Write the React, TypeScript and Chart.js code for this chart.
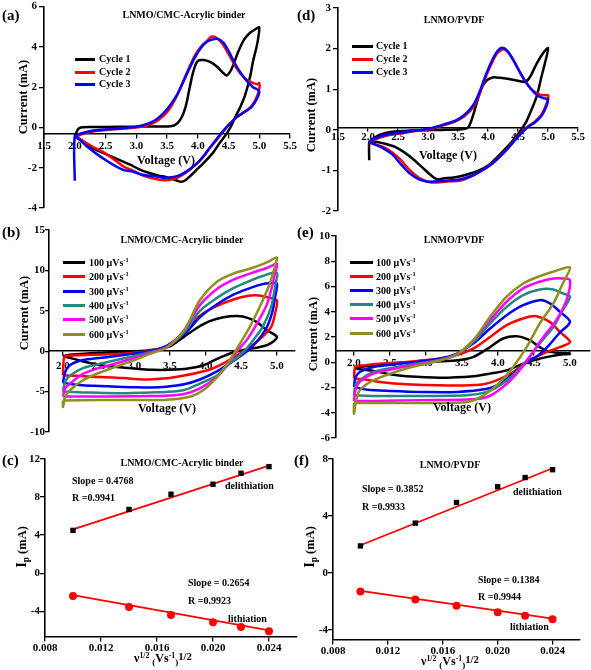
import React, { useEffect, useRef } from 'react';
import { Chart, registerables } from 'chart.js';
Chart.register(...registerables);

const W = 591;
const H = 670;
const FONT = '"Liberation Serif", "Times New Roman", serif';

// ---------- DATA ----------
// (a) LNMO/CMC-Acrylic binder, CV cycles [voltage V, current mA]
const cmcCycle1 = [
  [2.0, -0.45], [2.05, -0.1], [2.1, 0.0], [2.3, 0.02], [2.7, 0.03], [3.2, 0.05], [3.5, 0.05], [3.62, 0.1],
  [3.72, 0.4], [3.8, 1.0], [3.87, 2.0], [3.93, 2.8], [4.0, 3.3], [4.1, 3.35], [4.2, 3.25], [4.3, 3.05],
  [4.4, 2.75], [4.47, 2.58], [4.55, 2.9], [4.65, 3.7], [4.75, 4.35], [4.85, 4.7], [4.95, 4.9], [5.0, 4.97],
  [4.97, 4.2], [4.9, 3.3], [4.85, 2.5], [4.77, 1.6], [4.69, 1.0], [4.6, 0.45], [4.53, 0.0], [4.46, -0.35],
  [4.35, -0.8], [4.25, -1.25], [4.1, -1.75], [4.0, -2.05], [3.9, -2.35], [3.8, -2.62], [3.73, -2.7],
  [3.65, -2.62], [3.5, -2.48], [3.35, -2.38], [3.2, -2.25], [3.05, -2.08], [2.9, -1.85], [2.75, -1.65],
  [2.6, -1.45], [2.45, -1.25], [2.3, -1.05], [2.15, -0.75], [2.05, -0.55], [2.0, -0.45],
];
const cmcCycle2 = [
  [2.0, -0.5], [2.1, -0.35], [2.3, -0.2], [2.6, -0.1], [3.0, 0.0], [3.2, 0.12], [3.35, 0.35], [3.5, 0.75],
  [3.65, 1.5], [3.8, 2.55], [3.95, 3.55], [4.05, 4.0], [4.15, 4.3], [4.22, 4.5], [4.3, 4.45], [4.4, 4.15],
  [4.5, 3.65], [4.6, 3.1], [4.7, 2.65], [4.8, 2.35], [4.9, 2.2], [4.97, 2.15], [5.0, 2.2],
  [5.0, 1.9], [4.95, 1.45], [4.87, 1.05], [4.75, 0.75], [4.63, 0.5], [4.5, 0.12], [4.4, -0.25], [4.3, -0.65],
  [4.2, -1.0], [4.1, -1.4], [4.0, -1.75], [3.85, -2.15], [3.7, -2.45], [3.55, -2.6], [3.45, -2.62],
  [3.3, -2.55], [3.1, -2.38], [2.95, -2.15], [2.8, -1.95], [2.6, -1.5], [2.45, -1.2], [2.3, -0.97],
  [2.15, -0.7], [2.05, -0.5], [2.0, -0.45],
];
const cmcCycle3 = [
  [2.0, -2.65], [2.0, -0.45], [2.1, -0.3], [2.3, -0.15], [2.6, -0.08], [3.0, 0.03], [3.2, 0.2], [3.35, 0.45],
  [3.5, 0.9], [3.65, 1.55], [3.8, 2.5], [3.95, 3.45], [4.05, 3.95], [4.15, 4.25], [4.25, 4.38], [4.33, 4.4],
  [4.42, 4.2], [4.5, 3.8], [4.6, 3.2], [4.7, 2.7], [4.8, 2.3], [4.9, 2.0], [5.0, 1.8],
  [4.95, 1.35], [4.87, 1.0], [4.75, 0.75], [4.63, 0.5], [4.5, 0.12], [4.4, -0.22], [4.3, -0.6], [4.2, -1.0],
  [4.1, -1.42], [4.0, -1.75], [3.85, -2.12], [3.7, -2.38], [3.55, -2.48], [3.45, -2.5], [3.3, -2.42],
  [3.1, -2.35], [2.95, -2.2], [2.8, -2.12], [2.65, -1.9], [2.5, -1.62], [2.35, -1.3], [2.2, -0.95],
  [2.08, -0.6], [2.0, -0.45],
];

// (d) LNMO/PVDF, CV cycles
const pvdfCycle1 = [
  [2.02, -0.75], [2.02, -0.3], [2.05, -0.25], [2.2, -0.12], [2.4, -0.05], [2.7, -0.02], [3.0, -0.01],
  [3.3, 0.0], [3.6, 0.02], [3.68, 0.08], [3.76, 0.4], [3.83, 0.75], [3.9, 1.05], [3.98, 1.22], [4.08, 1.29],
  [4.2, 1.28], [4.35, 1.25], [4.5, 1.21], [4.62, 1.18], [4.7, 1.3], [4.8, 1.6], [4.9, 1.85], [5.0, 2.01],
  [4.95, 1.65], [4.89, 1.3], [4.81, 0.82], [4.7, 0.41], [4.62, 0.15], [4.55, 0.0], [4.45, -0.2],
  [4.3, -0.45], [4.15, -0.68], [4.0, -0.88], [3.85, -1.0], [3.65, -1.1], [3.45, -1.17], [3.25, -1.2],
  [3.15, -1.22], [3.05, -1.12], [2.9, -0.92], [2.75, -0.72], [2.6, -0.55], [2.45, -0.42], [2.3, -0.35],
  [2.15, -0.3], [2.03, -0.28],
];
const pvdfCycle2 = [
  [2.02, -0.32], [2.1, -0.25], [2.3, -0.15], [2.5, -0.1], [2.8, -0.03], [3.0, 0.0], [3.15, 0.06], [3.3, 0.13],
  [3.45, 0.2], [3.6, 0.33], [3.75, 0.55], [3.85, 0.85], [3.95, 1.25], [4.05, 1.6], [4.15, 1.88], [4.25, 1.98],
  [4.32, 1.93], [4.42, 1.72], [4.52, 1.45], [4.62, 1.2], [4.72, 1.0], [4.82, 0.9], [4.92, 0.85], [5.0, 0.85],
  [5.0, 0.75], [4.95, 0.55], [4.88, 0.35], [4.78, 0.2], [4.68, 0.1], [4.6, 0.0], [4.5, -0.15], [4.35, -0.42],
  [4.2, -0.65], [4.05, -0.85], [3.9, -1.0], [3.75, -1.13], [3.55, -1.25], [3.35, -1.27], [3.15, -1.3],
  [3.0, -1.28], [2.85, -1.18], [2.7, -1.0], [2.55, -0.75], [2.4, -0.55], [2.25, -0.42], [2.1, -0.35], [2.02, -0.32],
];
const pvdfCycle3 = [
  [2.02, -0.3], [2.1, -0.22], [2.3, -0.12], [2.5, -0.08], [2.8, -0.02], [3.0, 0.02], [3.15, 0.08], [3.3, 0.15],
  [3.45, 0.22], [3.6, 0.36], [3.75, 0.6], [3.85, 0.9], [3.95, 1.3], [4.05, 1.65], [4.15, 1.92], [4.23, 2.02],
  [4.32, 1.95], [4.42, 1.72], [4.52, 1.45], [4.62, 1.2], [4.72, 1.0], [4.82, 0.85], [4.92, 0.78], [5.0, 0.75],
  [4.95, 0.5], [4.88, 0.32], [4.78, 0.18], [4.68, 0.08], [4.6, -0.02], [4.5, -0.17], [4.35, -0.43],
  [4.2, -0.66], [4.05, -0.86], [3.9, -1.0], [3.75, -1.12], [3.55, -1.22], [3.35, -1.25], [3.15, -1.27],
  [3.0, -1.28], [2.85, -1.22], [2.7, -1.08], [2.55, -0.85], [2.4, -0.6], [2.25, -0.45], [2.1, -0.35], [2.02, -0.3],
];

// (b) LNMO/CMC-Acrylic binder, scan rates
const cmcRate100 = [
  [2.0, -0.6], [2.1, -0.45], [2.3, -0.3], [2.6, -0.15], [3.0, -0.05], [3.3, 0.2], [3.5, 0.6], [3.7, 1.8],
  [3.9, 3.0], [4.05, 3.7], [4.25, 4.2], [4.45, 4.35], [4.6, 4.1], [4.72, 3.6], [4.86, 2.6], [5.0, 1.8],
  [4.95, 1.2], [4.86, 0.75], [4.75, 0.5], [4.62, 0.3], [4.5, 0.1], [4.4, -0.1], [4.25, -0.6], [4.1, -1.2],
  [3.95, -1.8], [3.75, -2.15], [3.5, -2.3], [3.25, -2.3], [3.0, -2.15], [2.75, -1.95], [2.5, -1.7],
  [2.3, -1.3], [2.15, -0.95], [2.0, -0.6],
];
const cmcRate200 = [
  [2.0, -3.0], [2.02, -0.7], [2.1, -0.55], [2.4, -0.45], [2.75, -0.35], [3.0, -0.2], [3.25, 0.1], [3.45, 0.6],
  [3.6, 1.6], [3.75, 3.0], [3.92, 4.4], [4.16, 5.6], [4.39, 6.4], [4.6, 6.85], [4.75, 6.9], [4.9, 6.6], [5.0, 6.3],
  [4.97, 4.5], [4.92, 3.0], [4.8, 1.8], [4.62, 0.5], [4.44, -0.5], [4.25, -1.5], [4.08, -2.2], [3.92, -2.6],
  [3.7, -3.0], [3.45, -3.35], [3.2, -3.5], [2.95, -3.4], [2.7, -3.25], [2.4, -3.15], [2.2, -3.05], [2.0, -3.0],
];
const cmcRate300 = [
  [2.0, -3.9], [2.03, -2.6], [2.1, -1.7], [2.28, -1.1], [2.5, -0.85], [2.75, -0.6], [3.0, -0.3], [3.23, 0.0],
  [3.46, 0.7], [3.7, 2.1], [3.92, 4.2], [4.16, 5.8], [4.39, 7.0], [4.62, 7.8], [4.8, 8.3], [4.9, 8.4], [5.0, 8.4],
  [4.97, 6.5], [4.94, 5.0], [4.86, 3.0], [4.72, 1.2], [4.58, 0.0], [4.39, -1.2], [4.16, -2.5], [3.92, -3.5],
  [3.7, -4.1], [3.45, -4.4], [3.23, -4.5], [2.95, -4.45], [2.75, -4.4], [2.5, -4.3], [2.28, -4.2],
  [2.1, -4.05], [2.0, -3.9],
];
const cmcRate400 = [
  [2.0, -5.0], [2.03, -3.8], [2.1, -3.0], [2.28, -2.1], [2.5, -1.6], [2.75, -1.1], [3.0, -0.6], [3.23, -0.1],
  [3.46, 0.5], [3.7, 2.35], [3.92, 5.0], [4.16, 6.6], [4.39, 7.8], [4.62, 8.7], [4.8, 9.3], [5.0, 9.7],
  [4.98, 8.3], [4.92, 5.5], [4.8, 3.0], [4.67, 1.4], [4.53, -0.1], [4.34, -1.5], [4.16, -3.0], [3.92, -4.0],
  [3.7, -4.8], [3.45, -5.05], [3.23, -5.1], [2.75, -5.2], [2.28, -5.1], [2.0, -5.0],
];
const cmcRate500 = [
  [2.0, -5.6], [2.03, -4.6], [2.1, -4.0], [2.28, -2.8], [2.5, -2.1], [2.75, -1.5], [3.0, -0.85], [3.23, -0.2],
  [3.46, 0.5], [3.7, 2.6], [3.92, 5.7], [4.16, 7.7], [4.39, 8.85], [4.62, 9.6], [4.86, 10.3], [5.0, 10.8],
  [4.97, 9.5], [4.94, 8.3], [4.86, 5.8], [4.72, 3.4], [4.58, 1.4], [4.44, 0.0], [4.3, -1.7], [4.16, -3.2],
  [3.92, -4.6], [3.7, -5.3], [3.45, -5.5], [3.23, -5.55], [2.75, -5.6], [2.28, -5.6], [2.0, -5.6],
];
const cmcRate600 = [
  [2.0, -6.1], [2.0, -6.9], [2.03, -5.6], [2.1, -4.8], [2.28, -3.6], [2.5, -2.7], [2.75, -1.9], [3.0, -1.1],
  [3.23, -0.3], [3.46, 0.5], [3.7, 2.6], [3.92, 6.3], [4.16, 8.6], [4.39, 9.6], [4.62, 10.2], [4.86, 11.0], [5.0, 11.6],
  [4.98, 10.8], [4.9, 8.35], [4.76, 5.5], [4.62, 3.0], [4.48, 0.9], [4.34, -1.1], [4.16, -3.2], [3.97, -4.8],
  [3.79, -5.6], [3.46, -6.0], [3.0, -6.05], [2.5, -6.05], [2.0, -6.1],
];

// (e) LNMO/PVDF, scan rates
const pvdfRate100 = [
  [2.0, -0.5], [2.08, -0.37], [2.27, -0.24], [2.5, -0.1], [2.96, 0.03], [3.3, 0.1], [3.5, 0.2], [3.66, 0.42],
  [3.89, 1.2], [4.07, 1.88], [4.26, 2.06], [4.44, 1.75], [4.58, 1.2], [4.72, 0.82], [5.0, 0.69],
  [4.81, 0.56], [4.58, 0.29], [4.35, -0.11], [4.12, -0.64], [3.89, -0.9], [3.66, -1.1], [3.2, -1.22],
  [2.73, -1.11], [2.5, -0.95], [2.27, -0.69], [2.0, -0.5],
];
const pvdfRate200 = [
  [2.0, -1.3], [2.02, -0.35], [2.13, -0.25], [2.4, -0.1], [2.73, 0.02], [3.2, 0.29], [3.43, 0.56], [3.66, 1.1],
  [3.89, 2.0], [4.12, 2.94], [4.35, 3.47], [4.53, 3.65], [4.72, 3.2], [4.86, 2.4], [5.0, 1.61],
  [4.86, 1.2], [4.63, 0.69], [4.4, 0.03], [4.21, -0.77], [3.98, -1.43], [3.75, -1.78], [3.2, -1.83],
  [2.73, -1.75], [2.36, -1.56], [2.13, -1.35], [2.0, -1.3],
];
const pvdfRate300 = [
  [2.0, -1.96], [2.02, -1.2], [2.08, -0.77], [2.27, -0.37], [2.73, -0.06], [3.2, 0.29], [3.43, 0.69], [3.66, 1.5],
  [3.89, 2.67], [4.12, 3.73], [4.35, 4.52], [4.58, 4.92], [4.72, 4.66], [4.86, 4.0], [5.0, 3.2],
  [4.85, 2.3], [4.7, 1.3], [4.55, 0.5], [4.45, 0.2], [4.21, -0.9], [4.03, -1.69], [3.85, -2.1], [3.43, -2.35],
  [2.96, -2.35], [2.5, -2.27], [2.18, -2.17], [2.0, -1.96],
];
const pvdfRate400 = [
  [2.0, -2.62], [2.02, -1.8], [2.08, -1.43], [2.27, -0.77], [2.73, -0.24], [3.2, 0.21], [3.43, 0.63], [3.66, 1.61],
  [3.89, 3.07], [4.12, 4.39], [4.35, 5.32], [4.58, 5.77], [4.77, 5.77], [4.9, 5.45], [5.0, 5.19],
  [4.9, 4.13], [4.77, 2.8], [4.58, 1.48], [4.4, 0.16], [4.21, -1.03], [4.03, -1.82], [3.85, -2.35],
  [3.57, -2.62], [2.96, -2.67], [2.27, -2.67], [2.0, -2.62],
];
const pvdfRate500 = [
  [2.0, -3.07], [2.02, -2.2], [2.08, -1.56], [2.27, -0.9], [2.73, -0.32], [3.2, 0.16], [3.43, 0.63], [3.66, 1.75],
  [3.89, 3.33], [4.12, 4.79], [4.35, 5.85], [4.58, 6.38], [4.77, 6.64], [4.9, 6.64], [5.0, 6.5],
  [4.95, 4.9], [4.81, 3.33], [4.63, 2.0], [4.44, 0.42], [4.26, -0.9], [4.07, -1.96], [3.85, -2.75],
  [3.57, -2.96], [2.96, -3.0], [2.27, -3.07], [2.0, -3.07],
];
const pvdfRate600 = [
  [2.0, -3.23], [2.0, -4.07], [2.03, -3.0], [2.08, -2.22], [2.27, -1.43], [2.73, -0.5], [3.2, 0.16], [3.43, 0.63],
  [3.66, 1.75], [3.89, 3.6], [4.12, 5.19], [4.35, 6.24], [4.58, 6.82], [4.81, 7.25], [5.0, 7.51],
  [4.9, 6.24], [4.77, 4.66], [4.58, 3.07], [4.4, 1.22], [4.21, -0.37], [4.03, -1.56], [3.8, -2.62],
  [3.57, -3.15], [2.96, -3.23], [2.27, -3.23], [2.0, -3.23],
];

// (c), (f) peak current vs square root of scan rate
const sqrtScanRate = [0.010, 0.014, 0.017, 0.020, 0.022, 0.024];
const cmcDelith = [4.5, 6.7, 8.3, 9.35, 10.5, 11.2];
const cmcLith = [-2.4, -3.55, -4.4, -5.15, -5.65, -6.1];
const cmcDelithFit = [[0.010, 4.6], [0.024, 11.3]];
const cmcLithFit = [[0.010, -2.3], [0.024, -6.0]];
const pvdfDelith = [1.9, 3.5, 4.95, 6.05, 6.7, 7.25];
const pvdfLith = [-1.3, -1.85, -2.3, -2.75, -3.0, -3.25];
const pvdfDelithFit = [[0.010, 1.95], [0.024, 7.35]];
const pvdfLithFit = [[0.010, -1.25], [0.024, -3.2]];

const cycleLabels = ['Cycle 1', 'Cycle 2', 'Cycle 3'];
const rateLabels = ['100', '200', '300', '400', '500', '600'];

// ---------- STYLE ----------
const C_BLACK = '#000000';
const C_RED = '#ff0000';
const C_BLUE = '#0000ff';
const C_TEAL = '#22897f';
const C_MAGENTA = '#ff00ff';
const C_OLIVE = '#8f8f1f';
const cycleColors = [C_BLACK, C_RED, C_BLUE];
const rateColors = [C_BLACK, C_RED, C_BLUE, C_TEAL, C_MAGENTA, C_OLIVE];

type Ax = { min: number; max: number; step: number; dec: number; cross: number; pad: number; tl: number; shift?: number };
type Series = { data: number[][]; color: string; marker?: 'rect' | 'circle'; line?: boolean; width?: number };
type Spec = { area: { l: number; t: number; r: number; b: number }; x: Ax; y: Ax; series: Series[] };

const pairs = (xs: number[], ys: number[]) => xs.map((x, i) => [x, ys[i]]);

const specs: Spec[] = [
  {
    area: { l: 44, t: 6, r: 290, b: 208 },
    x: { min: 1.5, max: 5.5, step: 0.5, dec: 1, cross: -0.3, pad: 2, tl: 4 },
    y: { min: -4, max: 6, step: 2, dec: 0, cross: 1.5, pad: 0, tl: 4, shift: -7 },
    series: [cmcCycle1, cmcCycle2, cmcCycle3].map((d, i) => ({ data: d, color: cycleColors[i] })),
  },
  {
    area: { l: 338, t: 8, r: 578, b: 211 },
    x: { min: 1.5, max: 5.5, step: 0.5, dec: 1, cross: 0.05, pad: 0, tl: 3 },
    y: { min: -2, max: 3, step: 1, dec: 0, cross: 1.5, pad: 0, tl: 4, shift: -7 },
    series: [pvdfCycle1, pvdfCycle2, pvdfCycle3].map((d, i) => ({ data: d, color: cycleColors[i] })),
  },
  {
    area: { l: 49, t: 230, r: 295, b: 432 },
    x: { min: 1.804, max: 5.254, step: 0.5, dec: 1, cross: 0, pad: 4, tl: 4 },
    y: { min: -10, max: 15, step: 5, dec: 0, cross: 1.804, pad: 0, tl: 3, shift: -4 },
    series: [cmcRate100, cmcRate200, cmcRate300, cmcRate400, cmcRate500, cmcRate600].map((d, i) => ({ data: d, color: rateColors[i] })),
  },
  {
    area: { l: 336, t: 236, r: 590, b: 438 },
    x: { min: 1.75, max: 5.278, step: 0.5, dec: 1, cross: 0.9, pad: 1.5, tl: 4 },
    y: { min: -6, max: 10, step: 2, dec: 0, cross: 1.75, pad: 0, tl: 4, shift: -6 },
    series: [pvdfRate100, pvdfRate200, pvdfRate300, pvdfRate400, pvdfRate500, pvdfRate600].map((d, i) => ({ data: d, color: rateColors[i] })),
  },
  {
    area: { l: 45, t: 459, r: 297, b: 637 },
    x: { min: 0.008, max: 0.026, step: 0.004, dec: 3, cross: -6.7, pad: 0.5, tl: 4 },
    y: { min: -6.7, max: 12, step: 4, dec: 0, cross: 0.008, pad: 0, tl: 4, shift: -5 },
    series: [
      { data: pairs(sqrtScanRate, cmcDelith), color: C_BLACK, marker: 'rect', line: false },
      { data: pairs(sqrtScanRate, cmcLith), color: C_RED, marker: 'circle', line: false },
      { data: cmcDelithFit, color: C_RED, width: 1.8 },
      { data: cmcLithFit, color: C_RED, width: 1.8 },
    ],
  },
  {
    area: { l: 333, t: 459, r: 580, b: 640 },
    x: { min: 0.008, max: 0.026, step: 0.004, dec: 3, cross: -4.7, pad: 0.5, tl: 4 },
    y: { min: -4.7, max: 8, step: 4, dec: 0, cross: 0.008, pad: 0, tl: 4, shift: -5 },
    series: [
      { data: pairs(sqrtScanRate, pvdfDelith), color: C_BLACK, marker: 'rect', line: false },
      { data: pairs(sqrtScanRate, pvdfLith), color: C_RED, marker: 'circle', line: false },
      { data: pvdfDelithFit, color: C_RED, width: 1.8 },
      { data: pvdfLithFit, color: C_RED, width: 1.8 },
    ],
  },
];

// shifts the tick-label items of an axis that is placed at a data position
const shiftLabels = (dx: number) => (scale: any) => {
  if (!dx || scale.__shifted) return;
  scale.__shifted = true;
  const orig = scale._computeLabelItems;
  scale._computeLabelItems = function (ca: any) {
    const items = orig.call(this, ca);
    for (const it of items) {
      const t = it.options && it.options.translation;
      if (t) it.options.translation = [t[0] + dx, t[1]];
    }
    return items;
  };
};

function axisOpts(ax: Ax, crossId: string) {
  return {
    type: 'linear',
    min: ax.min,
    max: ax.max,
    position: { [crossId]: ax.cross },
    afterUpdate: shiftLabels(ax.shift ?? 0),
    ticks: {
      stepSize: ax.step,
      includeBounds: false,
      autoSkip: false,
      maxRotation: 0,
      padding: ax.pad,
      color: '#000',
      font: { family: FONT, size: 11, weight: 'bold' },
      callback: (v: any) => Number(v).toFixed(ax.dec),
    },
    grid: { display: true, drawOnChartArea: false, drawTicks: true, tickLength: ax.tl, color: '#000', lineWidth: 1.3 },
    border: { display: true, color: '#000', width: 1.6 },
    title: { display: false },
  };
}

function PanelChart({ spec }: { spec: Spec }) {
  const ref = useRef<HTMLCanvasElement>(null);
  useEffect(() => {
    const canvas = ref.current;
    if (!canvas) return;
    const n = spec.series.length;
    const datasets = spec.series.map((s, i) => ({
      data: s.data.map(([x, y]) => ({ x, y })),
      borderColor: s.color,
      backgroundColor: s.color,
      borderWidth: s.line === false ? 0 : s.width ?? 2.5,
      showLine: s.line !== false,
      pointRadius: s.marker === 'rect' ? 3.8 : s.marker ? 4 : 0,
      pointStyle: s.marker ?? 'circle',
      pointBorderWidth: 0,
      tension: 0.3,
      order: s.marker ? -100 : n - i,
    }));
    const chart = new Chart(canvas, {
      type: 'scatter',
      data: { datasets } as any,
      options: {
        animation: false,
        responsive: false,
        events: [],
        layout: { padding: { left: spec.area.l, top: spec.area.t, right: W - spec.area.r, bottom: H - spec.area.b } },
        plugins: { legend: { display: false }, tooltip: { enabled: false }, title: { display: false } },
        scales: { x: axisOpts(spec.x, 'y'), y: axisOpts(spec.y, 'x') } as any,
      },
    });
    return () => chart.destroy();
  }, [spec]);
  return <canvas ref={ref} width={W} height={H} style={{ position: 'absolute', left: 0, top: 0, width: W, height: H }} />;
}

// ---------- TEXT OVERLAYS ----------
const base: React.CSSProperties = { position: 'absolute', fontFamily: FONT, fontWeight: 'bold', color: '#000', whiteSpace: 'nowrap', lineHeight: 1 };

function Ctr({ x, y, size, children }: { x: number; y: number; size: number; children: React.ReactNode }) {
  return <div style={{ ...base, left: x, top: y, fontSize: size, transform: 'translate(-50%, -50%)' }}>{children}</div>;
}
function Lft({ x, y, size, children }: { x: number; y: number; size: number; children: React.ReactNode }) {
  return <div style={{ ...base, left: x, top: y, fontSize: size, transform: 'translate(0, -50%)' }}>{children}</div>;
}
function Rot({ x, y, size, children }: { x: number; y: number; size: number; children: React.ReactNode }) {
  return <div style={{ ...base, left: x, top: y, fontSize: size, transform: 'translate(-50%, -50%) rotate(-90deg)' }}>{children}</div>;
}
function Legend({ x1, x2, tx, ys, colors, labels }: { x1: number; x2: number; tx: number; ys: number[]; colors: string[]; labels: React.ReactNode[] }) {
  return (
    <>
      {ys.map((y, i) => (
        <React.Fragment key={i}>
          <div style={{ position: 'absolute', left: x1, top: y - 1.5, width: x2 - x1, height: 3, background: colors[i] }} />
          <Lft x={tx} y={y} size={10}>{labels[i]}</Lft>
        </React.Fragment>
      ))}
    </>
  );
}

const sup: React.CSSProperties = { fontSize: '0.65em', verticalAlign: '0.55em' };
const sub: React.CSSProperties = { fontSize: '0.75em', verticalAlign: '-0.3em' };
const rateLabelNodes = rateLabels.map((r) => (
  <span>{r} μVs<span style={sup}>-1</span></span>
));
const xRateTitle = (
  <span>ν<span style={sup}>1/2</span> <span style={sub}>(</span>Vs<span style={sup}>-1</span><span style={sub}>)</span><span style={{ fontSize: '0.9em', verticalAlign: '0.2em' }}>1/2</span></span>
);
const ipTitle = (
  <span><span style={{ fontSize: '1.15em' }}>I</span><span style={sub}>p</span> (mA)</span>
);

export default function App() {
  return (
    <div style={{ position: 'absolute', left: 0, top: 0, width: W, height: H, background: '#fff', overflow: 'hidden' }}>
      {specs.map((s, i) => <PanelChart key={i} spec={s} />)}

      {/* panel letters */}
      <Lft x={2} y={15} size={15}>(a)</Lft>
      <Lft x={297} y={15} size={15}>(d)</Lft>
      <Lft x={2} y={232} size={15}>(b)</Lft>
      <Lft x={297} y={232} size={15}>(e)</Lft>
      <Lft x={2} y={460} size={15}>(c)</Lft>
      <Lft x={294} y={460} size={15}>(f)</Lft>

      {/* titles */}
      <Ctr x={184} y={15} size={10}>LNMO/CMC-Acrylic binder</Ctr>
      <Ctr x={454} y={20} size={10}>LNMO/PVDF</Ctr>
      <Ctr x={182} y={240} size={10}>LNMO/CMC-Acrylic binder</Ctr>
      <Ctr x={454} y={240} size={10}>LNMO/PVDF</Ctr>
      <Ctr x={182} y={463} size={10}>LNMO/CMC-Acrylic binder</Ctr>
      <Ctr x={450} y={465} size={10}>LNMO/PVDF</Ctr>

      {/* axis titles */}
      <Rot x={23} y={97} size={12.5}>Current (mA)</Rot>
      <Rot x={311} y={115} size={12.5}>Current (mA)</Rot>
      <Rot x={24} y={313} size={12.5}>Current (mA)</Rot>
      <Rot x={313} y={334} size={12.5}>Current (mA)</Rot>
      <Rot x={23} y={547} size={12.5}>{ipTitle}</Rot>
      <Rot x={311} y={547} size={12.5}>{ipTitle}</Rot>
      <Ctr x={166} y={160} size={12}>Voltage (V)</Ctr>
      <Ctr x={448} y={155} size={12}>Voltage (V)</Ctr>
      <Ctr x={167} y={408} size={12}>Voltage (V)</Ctr>
      <Ctr x={462} y={407} size={12}>Voltage (V)</Ctr>
      <Ctr x={163} y={659} size={12}>{xRateTitle}</Ctr>
      <Ctr x={450} y={662} size={12}>{xRateTitle}</Ctr>

      {/* legends */}
      <Legend x1={75} x2={95} tx={99} ys={[59, 72, 84]} colors={cycleColors} labels={cycleLabels} />
      <Legend x1={352} x2={373} tx={376} ys={[46, 59, 72]} colors={cycleColors} labels={cycleLabels} />
      <Legend x1={63} x2={85} tx={89} ys={[262, 276, 291, 305, 319, 334]} colors={rateColors} labels={rateLabelNodes} />
      <Legend x1={350} x2={373} tx={376} ys={[262, 276, 290, 304, 318, 333]} colors={rateColors} labels={rateLabelNodes} />

      {/* annotations (c) */}
      <Lft x={72} y={481} size={10}>Slope = 0.4768</Lft>
      <Lft x={72} y={498} size={10}>R =0.9941</Lft>
      <Lft x={225} y={486} size={10}>delithiation</Lft>
      <Lft x={188} y={583} size={10}>Slope = 0.2654</Lft>
      <Lft x={188} y={601} size={10}>R =0.9923</Lft>
      <Lft x={228} y={619} size={10}>lithiation</Lft>
      {/* annotations (f) */}
      <Lft x={362} y={489} size={10}>Slope = 0.3852</Lft>
      <Lft x={362} y={507} size={10}>R =0.9933</Lft>
      <Lft x={513} y={492} size={10}>delithiation</Lft>
      <Lft x={478} y={580} size={10}>Slope = 0.1384</Lft>
      <Lft x={478} y={597} size={10}>R =0.9944</Lft>
      <Lft x={510} y={627} size={10}>lithiation</Lft>
    </div>
  );
}
